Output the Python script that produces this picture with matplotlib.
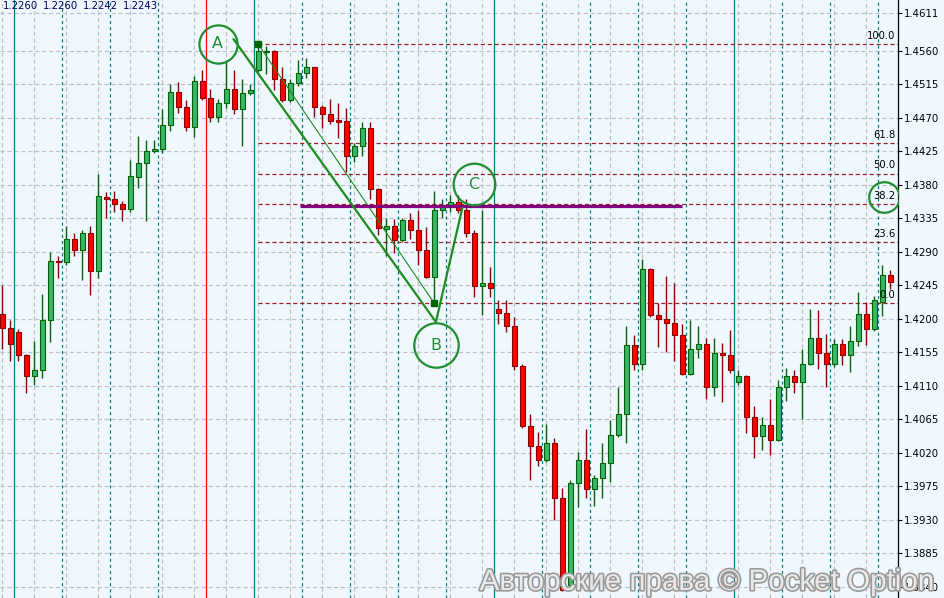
import numpy as np
import matplotlib
matplotlib.use("Agg")
import matplotlib.pyplot as plt
import matplotlib.patheffects as pe

plt.rcParams['lines.scale_dashes'] = False
plt.rcParams['font.family'] = ['DejaVu Sans']

# ---------------- data (prices) ----------------
opens = [1.4207, 1.4188, 1.4182, 1.4151, 1.4124, 1.4132, 1.4198, 1.4278, 1.4276, 1.4308,
         1.4292, 1.4315, 1.4264, 1.4364, 1.4361, 1.4354, 1.4348, 1.4391, 1.4409, 1.4425,
         1.4428, 1.4460, 1.4505, 1.4485, 1.4458, 1.4520, 1.4497, 1.4472, 1.4490, 1.4509,
         1.4482, 1.4503, 1.4535, 1.4559, 1.4560, 1.4522, 1.4494, 1.4517, 1.4530, 1.4538,
         1.4485, 1.4476, 1.4467, 1.4466, 1.4419, 1.4432, 1.4456, 1.4374, 1.4321, 1.4325,
         1.4306, 1.4333, 1.4320, 1.4293, 1.4257, 1.4346, 1.4352, 1.4357, 1.4347, 1.4315,
         1.4244, 1.4248, 1.4214, 1.4208, 1.4191, 1.4137, 1.4056, 1.4030, 1.4011, 1.4034,
         1.3959, 1.3843, 1.3979, 1.4011, 1.3971, 1.3987, 1.4007, 1.4044, 1.4073, 1.4165,
         1.4139, 1.4267, 1.4206, 1.4200, 1.4195, 1.4178, 1.4126, 1.4159, 1.4167, 1.4108,
         1.4154, 1.4151, 1.4116, 1.4123, 1.4068, 1.4043, 1.4057, 1.4037, 1.4108, 1.4124,
         1.4116, 1.4139, 1.4175, 1.4154, 1.4139, 1.4166, 1.4151, 1.4171, 1.4207, 1.4186,
         1.4223, 1.4259]
highs = [1.4246, 1.4199, 1.4186, 1.4153, 1.4170, 1.4234, 1.4290, 1.4284, 1.4325, 1.4315,
         1.4320, 1.4325, 1.4395, 1.4370, 1.4372, 1.4358, 1.4414, 1.4446, 1.4441, 1.4441,
         1.4482, 1.4516, 1.4518, 1.4494, 1.4527, 1.4534, 1.4509, 1.4496, 1.4546, 1.4534,
         1.4522, 1.4515, 1.4569, 1.4567, 1.4562, 1.4539, 1.4523, 1.4548, 1.4550, 1.4539,
         1.4487, 1.4496, 1.4490, 1.4484, 1.4436, 1.4464, 1.4464, 1.4376, 1.4335, 1.4334,
         1.4335, 1.4343, 1.4347, 1.4323, 1.4372, 1.4361, 1.4367, 1.4367, 1.4361, 1.4320,
         1.4347, 1.4270, 1.4225, 1.4225, 1.4203, 1.4140, 1.4073, 1.4048, 1.4059, 1.4040,
         1.3973, 1.3984, 1.4021, 1.4052, 1.3990, 1.4034, 1.4064, 1.4109, 1.4191, 1.4178,
         1.4280, 1.4268, 1.4221, 1.4258, 1.4249, 1.4193, 1.4198, 1.4191, 1.4175, 1.4175,
         1.4168, 1.4185, 1.4132, 1.4125, 1.4083, 1.4068, 1.4092, 1.4118, 1.4134, 1.4132,
         1.4159, 1.4214, 1.4212, 1.4180, 1.4173, 1.4173, 1.4191, 1.4236, 1.4223, 1.4231,
         1.4273, 1.4266]
lows = [1.4160, 1.4143, 1.4144, 1.4100, 1.4111, 1.4121, 1.4169, 1.4255, 1.4272, 1.4284,
        1.4252, 1.4232, 1.4255, 1.4335, 1.4344, 1.4331, 1.4344, 1.4376, 1.4332, 1.4423,
        1.4423, 1.4452, 1.4477, 1.4452, 1.4444, 1.4494, 1.4464, 1.4464, 1.4484, 1.4476,
        1.4433, 1.4501, 1.4532, 1.4529, 1.4507, 1.4491, 1.4491, 1.4513, 1.4524, 1.4471,
        1.4457, 1.4462, 1.4443, 1.4398, 1.4411, 1.4419, 1.4361, 1.4313, 1.4284, 1.4288,
        1.4304, 1.4307, 1.4272, 1.4255, 1.4221, 1.4335, 1.4344, 1.4342, 1.4310, 1.4230,
        1.4205, 1.4229, 1.4193, 1.4183, 1.4131, 1.4054, 1.3984, 1.4003, 1.4008, 1.3930,
        1.3834, 1.3836, 1.3948, 1.3960, 1.3949, 1.3960, 1.3981, 1.4042, 1.4033, 1.4131,
        1.4132, 1.4202, 1.4163, 1.4156, 1.4143, 1.4125, 1.4125, 1.4147, 1.4092, 1.4096,
        1.4089, 1.4128, 1.4111, 1.4047, 1.4013, 1.4024, 1.4017, 1.4036, 1.4090, 1.4101,
        1.4065, 1.4138, 1.4133, 1.4108, 1.4135, 1.4138, 1.4129, 1.4164, 1.4165, 1.4184,
        1.4204, 1.4240]
closes = [1.4188, 1.4167, 1.4151, 1.4124, 1.4132, 1.4198, 1.4278, 1.4276, 1.4308, 1.4292,
          1.4315, 1.4264, 1.4365, 1.4361, 1.4354, 1.4348, 1.4392, 1.4410, 1.4426, 1.4428,
          1.4460, 1.4505, 1.4485, 1.4458, 1.4520, 1.4497, 1.4472, 1.4490, 1.4509, 1.4482,
          1.4503, 1.4508, 1.4560, 1.4560, 1.4522, 1.4494, 1.4517, 1.4530, 1.4538, 1.4485,
          1.4476, 1.4466, 1.4465, 1.4419, 1.4432, 1.4456, 1.4374, 1.4322, 1.4325, 1.4306,
          1.4333, 1.4320, 1.4293, 1.4257, 1.4346, 1.4350, 1.4357, 1.4347, 1.4315, 1.4244,
          1.4248, 1.4241, 1.4208, 1.4191, 1.4137, 1.4056, 1.4030, 1.4011, 1.4034, 1.3959,
          1.3836, 1.3979, 1.4011, 1.3971, 1.3987, 1.4007, 1.4044, 1.4073, 1.4165, 1.4139,
          1.4267, 1.4206, 1.4200, 1.4195, 1.4178, 1.4126, 1.4159, 1.4167, 1.4108, 1.4154,
          1.4151, 1.4131, 1.4123, 1.4068, 1.4043, 1.4057, 1.4037, 1.4108, 1.4124, 1.4116,
          1.4139, 1.4175, 1.4154, 1.4139, 1.4166, 1.4151, 1.4171, 1.4207, 1.4186, 1.4225,
          1.4259, 1.4250]

price_ticks = [1.4611, 1.4560, 1.4515, 1.4470, 1.4425, 1.4380, 1.4335, 1.4290, 1.4245,
               1.4200, 1.4155, 1.4110, 1.4065, 1.4020, 1.3975, 1.3930, 1.3885, 1.3840]
tick_labels = ["1.4611", "1.4560", "1.4515", "1.4470", "1.4425", "1.4380", "1.4335", "1.4290",
               "1.4245", "1.4200", "1.4155", "1.4110", "1.4065", "1.4020", "1.3975", "1.3930",
               "1.3885", "1.3840"]

header_values = ["1.2260", "1.2260", "1.2242", "1.2243"]

# Fibonacci retracement anchors (bar index, price)
fib_start_bar, fib_high = 32, 1.4569
fib_end_bar, fib_low = 54, 1.4221
fib_ratios = [1.0, 0.618, 0.5, 0.382, 0.236, 0.0]
fib_names = ["100.0", "61.8", "50.0", "38.2", "23.6", "0.0"]

# A-B-C pattern pivots (bar index, price)
abc_x = [28.9, 54.2, 57.5]
abc_y = [1.4576, 1.4196, 1.4349]
abc_names = ["A", "B", "C"]
abc_label_x = [26.9, 54.2, 58.9]
abc_label_y = [1.4570, 1.4165, 1.4381]

# purple resistance line
res_price = 1.4352
res_from, res_to = 37.2, 85.0

red_vline_bar = 25.5

# ---------------- figure ----------------
W, H = 944, 598
BG = '#F0F8FF'
fig = plt.figure(figsize=(W / 100, H / 100), dpi=100, facecolor=BG)
ax = fig.add_axes([0, 0, 898 / W, 1])
ax.set_facecolor(BG)

n = len(opens)
x = np.arange(n)
x_left = (0 - 2.3) / 8
x_right = (898 - 2.3) / 8
ax.set_xlim(x_left, x_right)
ax.set_ylim(1.382516, 1.462851)

# horizontal grid
for p in price_ticks:
    ax.axhline(p, color='#C0C0C8', lw=0.9, ls=(0, (3, 2)), zorder=0)
# vertical grid every 4 bars
for b in range(0, n, 4):
    ax.axvline(b, color='#C0C0C8', lw=0.9, ls=(0, (3, 2)), zorder=0)
# period separators every 6 bars
for k in range(19):
    b = 1.5 + 6 * k
    if abs(b - red_vline_bar) < 1e-6:
        continue
    if k % 5 == 0:
        ax.axvline(b, color='#008080', lw=0.9, zorder=0.5)
    else:
        ax.axvline(b, color='#008080', lw=0.9, ls=(0, (2.2, 2.2)), zorder=0.5)
ax.axvline(red_vline_bar, color='#FF0000', lw=0.9, zorder=0.5)

# fibonacci levels
fib_range = fib_high - fib_low
for r, name in zip(fib_ratios, fib_names):
    lvl = fib_low + r * fib_range
    ax.hlines(lvl, fib_start_bar, x_right, color='#A0202A', lw=0.9, ls=(0, (3, 2)), zorder=1)
    ax.annotate(name, xy=((895 - 2.3) / 8, lvl), xytext=(0, 2.5), textcoords='offset points',
                ha='right', va='bottom', fontsize=7.2, color='black', zorder=6)

# candles
o = np.array(opens); c = np.array(closes); h = np.array(highs); l = np.array(lows)
up = c >= o
wick_cols = np.where(up, '#006400', '#8B0000')
ax.vlines(x, l, h, colors=wick_cols, lw=1.0, zorder=2)
body_bottom = np.minimum(o, c)
body_h = np.maximum(np.abs(c - o), 0.00003)
ax.bar(x[up], body_h[up], bottom=body_bottom[up], width=0.6, color='#3CB371',
       edgecolor='#006400', linewidth=0.8, zorder=3)
ax.bar(x[~up], body_h[~up], bottom=body_bottom[~up], width=0.6, color='#FF0000',
       edgecolor='#8B0000', linewidth=0.8, zorder=3)

# fib diagonal and anchors
ax.plot([fib_start_bar, fib_end_bar], [fib_high, fib_low], color='#1E8C1E', lw=0.8, zorder=4)
ax.plot([fib_start_bar, fib_end_bar], [fib_high, fib_low], ls='none', marker='s',
        markersize=4.5, color='#006400', zorder=5)

# purple line
ax.hlines(res_price, res_from, res_to, color='#800080', lw=2.3, zorder=4)

# ABC line
ax.plot(abc_x, abc_y, color='#1E8C1E', lw=1.6, zorder=4, solid_capstyle='round')

circle_sizes = [27.5, 32, 30]
green = '#1F8F2F'
for lx, ly, name, s in zip(abc_label_x, abc_label_y, abc_names, circle_sizes):
    ax.plot([lx], [ly], marker='o', markersize=s, markerfacecolor='none',
            markeredgecolor=green, markeredgewidth=1.6, ls='none', zorder=6)
    ax.text(lx, ly, name, ha='center', va='center', fontsize=11.5, color=green, zorder=6)

# circle around 38.2 label
lvl382 = fib_low + 0.382 * fib_range
ax.plot([(884.3 - 2.3) / 8], [lvl382], marker='o', markersize=22, markerfacecolor='none',
        markeredgecolor=green, markeredgewidth=1.6, ls='none', zorder=6,
        transform=ax.transData + matplotlib.transforms.ScaledTranslation(0, 7 / 100, fig.dpi_scale_trans))

# axes styling
for s in ['top', 'left', 'bottom']:
    ax.spines[s].set_visible(False)
ax.spines['right'].set_color('black')
ax.spines['right'].set_linewidth(0.9)
ax.set_xticks([])
ax.yaxis.tick_right()
ax.set_yticks(price_ticks)
ax.set_yticklabels(tick_labels)
ax.tick_params(axis='y', direction='out', length=3, width=0.8, pad=1.5, labelsize=7.3,
               colors='black')

# header text
for k, v in enumerate(header_values):
    fig.text((3.3 + 40 * k) / W, 1 - 6.3 / H, v, ha='left', va='center', fontsize=7.3,
             color='#000060')

# watermark
fig.text(935 / W, (H - 590) / H, "Авторские права © Pocket Option", ha='right',
         va='baseline', fontsize=21.3, family=['Liberation Sans', 'DejaVu Sans'],
         color='#EAEAEA',
         path_effects=[pe.withStroke(linewidth=2.4, foreground='#9A9A9A')], zorder=10)

fig.savefig('out.png', dpi=100, facecolor=BG)
